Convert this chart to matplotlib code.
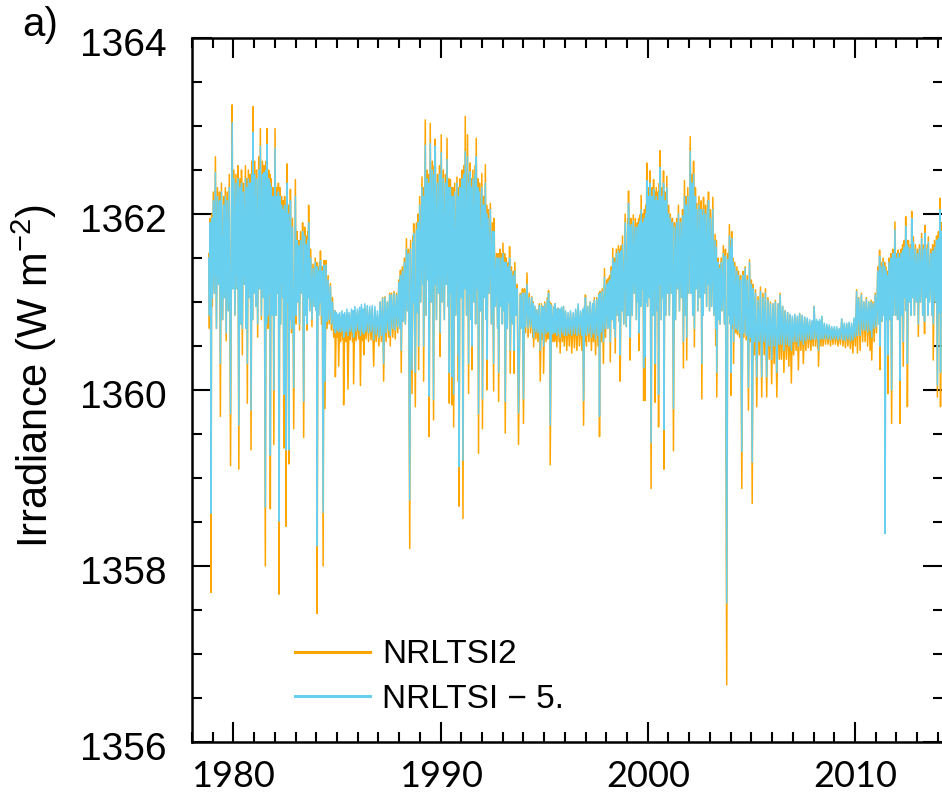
import numpy as np
import matplotlib
matplotlib.use('Agg')
import matplotlib.pyplot as plt
from matplotlib.ticker import MultipleLocator
from matplotlib.transforms import ScaledTranslation

plt.rcParams['font.family'] = ['Liberation Sans', 'DejaVu Sans']
plt.rcParams['mathtext.fontset'] = 'custom'
plt.rcParams['mathtext.rm'] = 'Liberation Sans'
plt.rcParams['mathtext.it'] = 'Liberation Sans:italic'

# sample times (decimal year), one line per year
t = [
    1978.81, 1978.84, 1978.87, 1978.90, 1978.92, 1978.95, 1978.98,
    1979.03, 1979.08, 1979.13, 1979.18, 1979.23, 1979.28, 1979.33, 1979.37, 1979.42, 1979.48, 1979.53, 1979.56, 1979.61, 1979.65, 1979.70, 1979.75, 1979.80, 1979.86, 1979.94, 1979.97,
    1980.02, 1980.07, 1980.12, 1980.17, 1980.21, 1980.26, 1980.31, 1980.36, 1980.39, 1980.43, 1980.48, 1980.53, 1980.58, 1980.62, 1980.64, 1980.67, 1980.72, 1980.77, 1980.81, 1980.85, 1980.90, 1980.92, 1980.95, 1980.98,
    1981.03, 1981.08, 1981.12, 1981.17, 1981.22, 1981.26, 1981.30, 1981.35, 1981.40, 1981.44, 1981.48, 1981.54, 1981.58, 1981.60, 1981.62, 1981.66, 1981.70, 1981.74, 1981.76, 1981.78, 1981.82, 1981.87, 1981.91, 1981.95,
    1982.01, 1982.05, 1982.09, 1982.13, 1982.17, 1982.20, 1982.24, 1982.28, 1982.33, 1982.38, 1982.40, 1982.43, 1982.47, 1982.50, 1982.52, 1982.54, 1982.59, 1982.63, 1982.65, 1982.67, 1982.71, 1982.73, 1982.75, 1982.80, 1982.85, 1982.91, 1982.99,
    1983.03, 1983.07, 1983.11, 1983.15, 1983.19, 1983.24, 1983.29, 1983.34, 1983.39, 1983.44, 1983.49, 1983.52, 1983.55, 1983.59, 1983.61, 1983.63, 1983.68, 1983.73, 1983.79, 1983.84, 1983.90, 1983.95,
    1984.00, 1984.02, 1984.04, 1984.08, 1984.12, 1984.16, 1984.18, 1984.20, 1984.25, 1984.29, 1984.33, 1984.37, 1984.42, 1984.47, 1984.52, 1984.57, 1984.62, 1984.68, 1984.73, 1984.78, 1984.84, 1984.90, 1984.92, 1984.97,
    1985.02, 1985.05, 1985.08, 1985.13, 1985.18, 1985.24, 1985.28, 1985.30, 1985.32, 1985.37, 1985.43, 1985.48, 1985.53, 1985.58, 1985.64, 1985.70, 1985.75, 1985.78, 1985.80, 1985.86, 1985.92, 1985.98,
    1986.04, 1986.09, 1986.13, 1986.18, 1986.24, 1986.27, 1986.29, 1986.34, 1986.40, 1986.46, 1986.52, 1986.58, 1986.64, 1986.70, 1986.77, 1986.83, 1986.89, 1986.95,
    1987.02, 1987.08, 1987.14, 1987.20, 1987.25, 1987.31, 1987.37, 1987.43, 1987.49, 1987.54, 1987.57, 1987.63, 1987.69, 1987.75, 1987.81, 1987.87, 1987.93, 1987.98,
    1988.03, 1988.06, 1988.10, 1988.15, 1988.20, 1988.25, 1988.30, 1988.35, 1988.40, 1988.45, 1988.51, 1988.55, 1988.62, 1988.66, 1988.68, 1988.70, 1988.78, 1988.83, 1988.88, 1988.91, 1988.94, 1988.99,
    1989.04, 1989.10, 1989.14, 1989.16, 1989.18, 1989.26, 1989.30, 1989.35, 1989.40, 1989.42, 1989.45, 1989.50, 1989.55, 1989.60, 1989.66, 1989.70, 1989.72, 1989.74, 1989.80, 1989.85, 1989.90, 1989.95, 1989.98,
    1990.03, 1990.08, 1990.13, 1990.18, 1990.23, 1990.27, 1990.31, 1990.36, 1990.40, 1990.42, 1990.47, 1990.51, 1990.53, 1990.55, 1990.60, 1990.63, 1990.68, 1990.73, 1990.79, 1990.84, 1990.87, 1990.89, 1990.94, 1990.99,
    1991.04, 1991.08, 1991.13, 1991.16, 1991.19, 1991.25, 1991.30, 1991.35, 1991.39, 1991.41, 1991.43, 1991.47, 1991.49, 1991.51, 1991.56, 1991.61, 1991.66, 1991.69, 1991.72, 1991.77, 1991.80, 1991.83, 1991.88, 1991.93, 1991.99,
    1992.02, 1992.07, 1992.11, 1992.16, 1992.20, 1992.22, 1992.24, 1992.29, 1992.34, 1992.40, 1992.45, 1992.50, 1992.56, 1992.58, 1992.64, 1992.70, 1992.75, 1992.78, 1992.80, 1992.86, 1992.91, 1992.96, 1992.98,
    1993.01, 1993.06, 1993.09, 1993.12, 1993.17, 1993.22, 1993.27, 1993.30, 1993.33, 1993.36, 1993.42, 1993.47, 1993.52, 1993.55, 1993.58, 1993.64, 1993.70, 1993.76, 1993.84, 1993.90, 1993.95,
    1994.00, 1994.05, 1994.10, 1994.17, 1994.22, 1994.28, 1994.34, 1994.40, 1994.45, 1994.47, 1994.49, 1994.55, 1994.60, 1994.65, 1994.70, 1994.76, 1994.81, 1994.87, 1994.92, 1994.95, 1994.97,
    1995.03, 1995.09, 1995.15, 1995.18, 1995.21, 1995.25, 1995.27, 1995.29, 1995.35, 1995.41, 1995.47, 1995.50, 1995.53, 1995.56, 1995.58, 1995.61, 1995.67, 1995.72, 1995.75, 1995.77, 1995.83, 1995.88, 1995.93, 1995.97,
    1996.03, 1996.09, 1996.15, 1996.21, 1996.27, 1996.33, 1996.40, 1996.46, 1996.52, 1996.58, 1996.64, 1996.70, 1996.76, 1996.82, 1996.87, 1996.90, 1996.95, 1996.97, 1996.99,
    1997.04, 1997.10, 1997.16, 1997.22, 1997.28, 1997.34, 1997.38, 1997.42, 1997.48, 1997.54, 1997.60, 1997.65, 1997.67, 1997.70, 1997.75, 1997.80, 1997.86, 1997.91, 1997.96,
    1998.02, 1998.07, 1998.10, 1998.14, 1998.16, 1998.19, 1998.24, 1998.28, 1998.31, 1998.36, 1998.40, 1998.43, 1998.48, 1998.53, 1998.58, 1998.63, 1998.65, 1998.67, 1998.72, 1998.75, 1998.78, 1998.84, 1998.91, 1998.96,
    1999.03, 1999.05, 1999.07, 1999.11, 1999.13, 1999.15, 1999.20, 1999.25, 1999.30, 1999.35, 1999.40, 1999.45, 1999.50, 1999.53, 1999.56, 1999.58, 1999.63, 1999.66, 1999.68, 1999.74, 1999.77, 1999.80, 1999.84, 1999.87, 1999.90, 1999.93, 1999.95, 1999.99,
    2000.04, 2000.08, 2000.11, 2000.16, 2000.21, 2000.25, 2000.28, 2000.31, 2000.34, 2000.36, 2000.41, 2000.46, 2000.49, 2000.52, 2000.56, 2000.58, 2000.60, 2000.65, 2000.70, 2000.73, 2000.76, 2000.78, 2000.83, 2000.87, 2000.92, 2000.96,
    2001.00, 2001.04, 2001.09, 2001.14, 2001.19, 2001.24, 2001.29, 2001.34, 2001.39, 2001.44, 2001.48, 2001.53, 2001.58, 2001.63, 2001.68, 2001.72, 2001.77, 2001.82, 2001.85, 2001.88, 2001.93, 2001.98,
    2002.05, 2002.09, 2002.13, 2002.17, 2002.21, 2002.25, 2002.30, 2002.33, 2002.37, 2002.42, 2002.47, 2002.52, 2002.57, 2002.61, 2002.65, 2002.67, 2002.69, 2002.74, 2002.79, 2002.84, 2002.89, 2002.91, 2002.93, 2002.98,
    2003.03, 2003.08, 2003.14, 2003.19, 2003.25, 2003.28, 2003.31, 2003.33, 2003.39, 2003.43, 2003.46, 2003.49, 2003.54, 2003.59, 2003.65, 2003.70, 2003.75, 2003.81, 2003.86, 2003.90, 2003.94, 2003.98,
    2004.00, 2004.02, 2004.05, 2004.10, 2004.12, 2004.14, 2004.20, 2004.25, 2004.30, 2004.33, 2004.38, 2004.43, 2004.48, 2004.54, 2004.59, 2004.64, 2004.70, 2004.75, 2004.80, 2004.86, 2004.91, 2004.96,
    2005.00, 2005.04, 2005.09, 2005.14, 2005.20, 2005.26, 2005.32, 2005.38, 2005.44, 2005.50, 2005.56, 2005.62, 2005.68, 2005.74, 2005.80, 2005.86, 2005.92, 2005.98,
    2006.04, 2006.10, 2006.16, 2006.23, 2006.29, 2006.35, 2006.39, 2006.45, 2006.51, 2006.57, 2006.63, 2006.69, 2006.75, 2006.81, 2006.87, 2006.93, 2006.98,
    2007.04, 2007.10, 2007.16, 2007.22, 2007.27, 2007.33, 2007.39, 2007.45, 2007.51, 2007.57, 2007.63, 2007.69, 2007.75, 2007.81, 2007.87, 2007.93, 2007.98,
    2008.03, 2008.09, 2008.15, 2008.20, 2008.22, 2008.24, 2008.30, 2008.36, 2008.40, 2008.46, 2008.52, 2008.58, 2008.64, 2008.70, 2008.76, 2008.82, 2008.88, 2008.94,
    2009.00, 2009.06, 2009.12, 2009.18, 2009.24, 2009.30, 2009.36, 2009.42, 2009.48, 2009.54, 2009.60, 2009.66, 2009.72, 2009.78, 2009.84, 2009.90, 2009.96,
    2010.02, 2010.08, 2010.12, 2010.18, 2010.25, 2010.31, 2010.37, 2010.43, 2010.49, 2010.55, 2010.61, 2010.67, 2010.73, 2010.78, 2010.81, 2010.87, 2010.93, 2010.98,
    2011.04, 2011.10, 2011.15, 2011.19, 2011.21, 2011.26, 2011.31, 2011.36, 2011.41, 2011.43, 2011.45, 2011.50, 2011.55, 2011.57, 2011.59, 2011.64, 2011.69, 2011.73, 2011.77, 2011.82, 2011.87, 2011.93, 2011.97,
    2012.02, 2012.06, 2012.09, 2012.13, 2012.15, 2012.17, 2012.22, 2012.27, 2012.30, 2012.33, 2012.38, 2012.42, 2012.45, 2012.48, 2012.51, 2012.53, 2012.58, 2012.63, 2012.68, 2012.71, 2012.74, 2012.78, 2012.82, 2012.87, 2012.92, 2012.97,
    2013.02, 2013.06, 2013.11, 2013.16, 2013.22, 2013.27, 2013.32, 2013.36, 2013.38, 2013.43, 2013.49, 2013.52, 2013.54, 2013.60, 2013.66, 2013.72, 2013.75, 2013.78, 2013.84, 2013.89, 2013.94, 2013.98,
    2014.03, 2014.07, 2014.10, 2014.13, 2014.17, 2014.22, 2014.26,
]

# NRLTSI2 total solar irradiance (W m-2)
nrltsi2 = [
    1361.55, 1360.70, 1361.95, 1360.90, 1357.70, 1362.00, 1360.95,
    1362.25, 1361.10, 1362.65, 1360.70, 1362.30, 1361.20, 1362.25, 1359.70, 1362.35, 1360.80, 1362.20, 1361.05, 1362.30, 1360.56, 1362.25, 1360.90, 1362.45, 1359.14, 1363.24, 1361.15,
    1362.50, 1360.85, 1362.45, 1361.15, 1362.55, 1359.10, 1362.40, 1360.75, 1362.50, 1360.40, 1362.35, 1361.20, 1362.55, 1360.70, 1362.40, 1359.85, 1362.50, 1361.05, 1362.45, 1359.32, 1362.60, 1360.80, 1363.22, 1361.10,
    1362.60, 1360.95, 1362.50, 1360.60, 1362.65, 1361.15, 1362.97, 1360.80, 1362.60, 1361.05, 1362.55, 1358.00, 1362.60, 1360.75, 1362.97, 1360.70, 1362.50, 1361.10, 1362.45, 1358.65, 1362.40, 1360.85, 1362.30, 1359.38,
    1362.97, 1360.85, 1362.30, 1361.10, 1362.35, 1357.68, 1362.30, 1360.75, 1362.20, 1361.05, 1362.15, 1359.34, 1362.20, 1360.70, 1362.10, 1358.45, 1362.57, 1361.00, 1362.10, 1359.16, 1362.00, 1360.80, 1362.28, 1360.65, 1361.95, 1359.56, 1362.39,
    1360.75, 1361.80, 1361.00, 1361.70, 1360.68, 1361.80, 1361.10, 1361.90, 1359.46, 1361.85, 1360.85, 1361.75, 1360.68, 1361.80, 1361.05, 1362.10, 1360.90, 1361.60, 1360.72, 1361.43, 1360.95, 1361.50,
    1360.90, 1361.45, 1357.46, 1361.40, 1360.85, 1361.45, 1361.00, 1361.58, 1360.75, 1361.40, 1358.00, 1361.47, 1359.79, 1361.47, 1360.70, 1361.30, 1360.75, 1361.21, 1360.68, 1361.05, 1360.60, 1360.90, 1360.15, 1360.85,
    1360.60, 1360.82, 1360.27, 1360.85, 1360.55, 1360.86, 1360.58, 1360.82, 1359.83, 1360.85, 1360.55, 1360.87, 1360.01, 1360.85, 1360.57, 1360.88, 1360.55, 1360.85, 1360.07, 1360.90, 1360.56, 1360.88,
    1360.58, 1360.90, 1360.05, 1360.92, 1360.56, 1360.88, 1360.40, 1360.95, 1360.58, 1360.92, 1360.55, 1360.90, 1360.57, 1360.93, 1360.27, 1360.90, 1360.55, 1360.85,
    1360.50, 1361.00, 1360.55, 1361.05, 1360.10, 1361.06, 1360.55, 1361.00, 1360.60, 1361.10, 1360.50, 1361.10, 1360.60, 1361.12, 1360.58, 1361.10, 1360.65, 1361.25,
    1360.70, 1361.36, 1360.20, 1361.40, 1360.78, 1361.50, 1360.75, 1361.72, 1360.90, 1361.60, 1358.20, 1361.70, 1359.96, 1361.75, 1361.00, 1361.89, 1359.81, 1361.90, 1360.88, 1362.00, 1360.23, 1362.20,
    1361.00, 1362.42, 1361.20, 1362.30, 1360.10, 1363.07, 1360.85, 1362.50, 1361.25, 1362.45, 1359.47, 1363.03, 1361.00, 1362.60, 1359.66, 1362.55, 1361.20, 1362.85, 1360.80, 1362.45, 1361.10, 1362.55, 1360.38,
    1362.90, 1361.00, 1362.50, 1360.80, 1362.45, 1361.20, 1362.86, 1360.95, 1362.40, 1359.85, 1362.39, 1361.10, 1362.30, 1359.83, 1362.30, 1359.58, 1362.35, 1360.85, 1362.42, 1360.10, 1362.30, 1358.68, 1362.40, 1361.05,
    1362.50, 1358.54, 1362.55, 1361.15, 1363.11, 1360.85, 1362.90, 1359.96, 1362.45, 1361.10, 1362.58, 1360.80, 1362.40, 1360.23, 1362.50, 1361.00, 1362.55, 1360.75, 1362.86, 1361.15, 1362.40, 1359.28, 1362.35, 1360.90, 1362.46,
    1359.56, 1362.20, 1361.05, 1362.56, 1360.80, 1362.10, 1360.00, 1362.05, 1361.10, 1362.12, 1360.75, 1361.90, 1359.99, 1361.95, 1360.95, 1361.55, 1360.70, 1361.55, 1359.87, 1361.60, 1360.95, 1361.55, 1360.75,
    1361.67, 1360.90, 1361.55, 1359.51, 1361.50, 1360.70, 1361.45, 1361.00, 1361.63, 1360.19, 1361.40, 1360.75, 1361.35, 1360.19, 1361.45, 1360.85, 1361.20, 1359.38, 1361.10, 1360.70, 1361.15,
    1359.62, 1361.15, 1360.65, 1361.33, 1360.60, 1361.10, 1360.65, 1361.06, 1360.60, 1361.00, 1360.49, 1360.95, 1360.58, 1360.91, 1360.55, 1360.98, 1360.10, 1360.98, 1360.58, 1360.95, 1360.19,
    1361.00, 1360.55, 1361.05, 1360.58, 1361.13, 1360.60, 1361.00, 1359.15, 1360.98, 1360.55, 1360.95, 1360.55, 1360.98, 1360.58, 1360.92, 1360.49, 1360.93, 1360.55, 1360.90, 1360.42, 1360.92, 1360.55, 1360.95, 1360.50,
    1360.88, 1360.45, 1360.85, 1360.50, 1360.88, 1360.42, 1360.86, 1360.48, 1360.90, 1360.45, 1360.95, 1360.50, 1360.88, 1360.45, 1360.90, 1359.60, 1360.95, 1360.55, 1361.08,
    1360.50, 1360.95, 1360.55, 1361.00, 1360.45, 1360.98, 1360.55, 1361.05, 1360.40, 1361.05, 1360.50, 1361.10, 1359.47, 1361.12, 1360.55, 1361.15, 1360.30, 1361.38, 1360.60,
    1361.25, 1360.70, 1361.27, 1360.72, 1361.30, 1360.32, 1361.40, 1360.80, 1361.61, 1360.70, 1361.50, 1360.42, 1361.60, 1360.85, 1361.64, 1360.78, 1361.60, 1360.10, 1361.64, 1360.90, 1361.75, 1360.75, 1362.00, 1360.72,
    1361.95, 1360.85, 1362.26, 1361.05, 1361.95, 1360.34, 1361.95, 1360.85, 1361.99, 1361.10, 1361.95, 1360.80, 1361.90, 1361.00, 1361.95, 1360.45, 1361.99, 1360.95, 1362.21, 1361.15, 1362.00, 1359.88, 1362.05, 1359.88, 1362.10, 1361.00, 1362.58, 1360.95,
    1362.30, 1361.05, 1362.49, 1358.88, 1362.30, 1360.85, 1362.39, 1361.15, 1362.25, 1359.86, 1362.30, 1360.90, 1362.25, 1359.58, 1362.35, 1361.20, 1362.72, 1360.80, 1362.30, 1361.05, 1362.49, 1359.10, 1362.25, 1360.85, 1362.43, 1361.10,
    1362.10, 1360.85, 1362.00, 1361.10, 1361.95, 1359.31, 1361.90, 1360.80, 1361.95, 1361.15, 1362.10, 1360.90, 1361.95, 1361.05, 1362.05, 1360.25, 1362.38, 1360.85, 1362.20, 1360.34, 1362.30, 1361.10,
    1362.88, 1361.10, 1362.45, 1360.85, 1362.60, 1360.49, 1362.30, 1361.15, 1362.12, 1360.90, 1362.20, 1361.05, 1362.15, 1359.90, 1362.05, 1360.85, 1362.19, 1361.10, 1362.10, 1360.95, 1362.15, 1361.20, 1362.25, 1360.90,
    1362.05, 1360.95, 1362.19, 1360.85, 1361.77, 1360.51, 1361.70, 1359.92, 1361.50, 1360.80, 1361.42, 1360.75, 1361.50, 1360.90, 1361.64, 1360.75, 1361.60, 1356.65, 1361.55, 1360.85, 1361.88, 1360.75,
    1361.70, 1359.94, 1361.80, 1360.70, 1361.50, 1360.30, 1361.45, 1360.65, 1361.40, 1360.63, 1361.35, 1360.60, 1361.30, 1358.88, 1361.35, 1360.60, 1361.40, 1360.57, 1361.30, 1359.77, 1361.48, 1360.55,
    1361.25, 1358.71, 1361.20, 1360.40, 1361.14, 1359.81, 1361.06, 1360.40, 1361.17, 1359.92, 1361.10, 1360.40, 1361.15, 1359.92, 1361.05, 1360.35, 1361.00, 1360.07,
    1360.98, 1360.30, 1361.02, 1359.92, 1360.98, 1360.35, 1361.10, 1360.35, 1360.95, 1360.20, 1360.90, 1360.35, 1360.88, 1360.27, 1360.85, 1360.08, 1360.82,
    1360.40, 1360.85, 1360.45, 1360.82, 1360.23, 1360.87, 1360.45, 1360.84, 1360.30, 1360.82, 1360.45, 1360.80, 1360.48, 1360.78, 1360.45, 1360.77, 1360.50,
    1360.95, 1360.50, 1360.78, 1360.48, 1360.76, 1360.27, 1360.78, 1360.50, 1360.83, 1360.50, 1360.74, 1360.52, 1360.72, 1360.52, 1360.72, 1360.50, 1360.70, 1360.52,
    1360.70, 1360.52, 1360.70, 1360.50, 1360.68, 1360.52, 1360.80, 1360.50, 1360.74, 1360.48, 1360.75, 1360.50, 1360.76, 1360.47, 1360.74, 1360.42, 1360.80,
    1360.50, 1361.14, 1360.42, 1361.05, 1360.45, 1361.10, 1360.55, 1361.00, 1360.55, 1361.05, 1360.50, 1361.00, 1360.45, 1361.02, 1360.34, 1361.00, 1360.55, 1361.10,
    1360.65, 1361.40, 1360.75, 1361.59, 1360.23, 1361.45, 1360.78, 1361.50, 1360.85, 1361.45, 1360.40, 1361.40, 1360.80, 1361.35, 1359.96, 1361.50, 1360.80, 1361.55, 1359.62, 1361.60, 1360.85, 1361.91, 1360.85,
    1361.55, 1360.80, 1361.59, 1361.00, 1361.55, 1359.62, 1361.60, 1360.85, 1361.65, 1360.27, 1361.70, 1361.05, 1361.97, 1360.90, 1361.70, 1359.81, 1361.70, 1361.00, 1361.65, 1360.85, 1362.03, 1361.05, 1361.74, 1360.85, 1361.65, 1361.00,
    1361.60, 1360.61, 1361.65, 1361.00, 1361.78, 1360.85, 1361.65, 1360.64, 1361.87, 1361.05, 1361.65, 1360.85, 1361.74, 1361.00, 1361.60, 1360.85, 1361.65, 1360.34, 1361.70, 1361.00, 1361.75, 1359.92,
    1361.80, 1360.88, 1362.18, 1359.81, 1361.90, 1360.90, 1361.80,
]

# NRLTSI minus 5 W m-2
nrltsi5 = [
    1361.50, 1360.85, 1361.90, 1361.00, 1358.60, 1361.95, 1361.05,
    1362.15, 1361.10, 1362.47, 1360.70, 1362.20, 1361.20, 1362.15, 1360.30, 1362.25, 1360.80, 1362.10, 1361.05, 1362.20, 1360.65, 1362.15, 1360.90, 1362.30, 1359.73, 1363.04, 1361.15,
    1362.40, 1360.85, 1362.35, 1361.15, 1362.40, 1359.60, 1362.30, 1360.75, 1362.35, 1360.70, 1362.25, 1361.20, 1362.40, 1360.70, 1362.30, 1360.30, 1362.40, 1361.05, 1362.35, 1359.77, 1362.45, 1360.80, 1362.93, 1361.10,
    1362.45, 1360.95, 1362.40, 1360.75, 1362.50, 1361.15, 1362.77, 1360.85, 1362.45, 1361.05, 1362.47, 1358.67, 1362.50, 1360.75, 1362.79, 1360.85, 1362.40, 1361.10, 1362.35, 1359.26, 1362.30, 1360.85, 1362.20, 1360.00,
    1362.75, 1360.85, 1362.20, 1361.10, 1362.25, 1358.51, 1362.20, 1360.75, 1362.10, 1361.05, 1362.05, 1359.95, 1362.10, 1360.70, 1362.00, 1359.32, 1362.35, 1361.00, 1362.00, 1359.32, 1361.90, 1360.80, 1362.15, 1360.70, 1361.85, 1360.03, 1362.20,
    1360.85, 1361.70, 1361.00, 1361.64, 1360.75, 1361.70, 1361.10, 1361.80, 1359.87, 1361.75, 1360.85, 1361.65, 1360.75, 1361.70, 1361.05, 1361.90, 1360.90, 1361.50, 1360.80, 1361.38, 1360.95, 1361.45,
    1360.90, 1361.40, 1358.23, 1361.35, 1360.85, 1361.40, 1361.00, 1361.47, 1360.85, 1361.35, 1358.61, 1361.42, 1360.10, 1361.42, 1360.78, 1361.25, 1360.80, 1361.18, 1360.75, 1361.00, 1360.70, 1360.90, 1360.65, 1360.88,
    1360.68, 1360.86, 1360.66, 1360.88, 1360.66, 1360.90, 1360.68, 1360.86, 1360.60, 1360.88, 1360.66, 1360.92, 1360.62, 1360.88, 1360.67, 1360.92, 1360.66, 1360.90, 1360.60, 1360.95, 1360.67, 1360.92,
    1360.68, 1360.94, 1360.62, 1360.97, 1360.66, 1360.92, 1360.64, 1360.98, 1360.67, 1360.96, 1360.65, 1360.95, 1360.66, 1360.96, 1360.57, 1360.95, 1360.63, 1360.90,
    1360.60, 1361.00, 1360.62, 1361.04, 1360.30, 1361.05, 1360.65, 1361.00, 1360.68, 1361.08, 1360.62, 1361.08, 1360.70, 1361.10, 1360.68, 1361.08, 1360.72, 1361.22,
    1360.70, 1361.30, 1360.45, 1361.35, 1360.78, 1361.45, 1360.75, 1361.60, 1360.90, 1361.55, 1358.75, 1361.60, 1360.23, 1361.68, 1361.00, 1361.78, 1360.20, 1361.82, 1360.88, 1361.90, 1360.50, 1362.10,
    1361.00, 1362.30, 1361.20, 1362.20, 1360.50, 1362.78, 1360.85, 1362.40, 1361.25, 1362.35, 1359.93, 1362.80, 1361.00, 1362.50, 1359.89, 1362.45, 1361.20, 1362.77, 1360.80, 1362.35, 1361.10, 1362.45, 1360.65,
    1362.70, 1361.00, 1362.40, 1360.80, 1362.35, 1361.20, 1362.62, 1360.95, 1362.30, 1360.20, 1362.30, 1361.10, 1362.20, 1360.15, 1362.20, 1359.95, 1362.25, 1360.85, 1362.35, 1360.40, 1362.20, 1359.13, 1362.30, 1361.05,
    1362.40, 1359.20, 1362.45, 1361.15, 1362.71, 1360.85, 1362.65, 1360.30, 1362.35, 1361.10, 1362.48, 1360.80, 1362.30, 1360.50, 1362.40, 1361.00, 1362.45, 1360.75, 1362.65, 1361.15, 1362.30, 1359.73, 1362.25, 1360.90, 1362.30,
    1359.90, 1362.10, 1361.05, 1362.35, 1360.80, 1362.00, 1360.35, 1361.95, 1361.10, 1362.05, 1360.75, 1361.80, 1360.30, 1361.80, 1360.95, 1361.50, 1360.70, 1361.50, 1360.20, 1361.50, 1360.95, 1361.50, 1360.75,
    1361.55, 1360.90, 1361.45, 1359.87, 1361.45, 1360.70, 1361.40, 1361.00, 1361.50, 1360.45, 1361.35, 1360.75, 1361.30, 1360.45, 1361.35, 1360.85, 1361.15, 1359.74, 1361.08, 1360.70, 1361.10,
    1359.90, 1361.10, 1360.72, 1361.20, 1360.70, 1361.05, 1360.72, 1361.05, 1360.70, 1360.98, 1360.60, 1360.95, 1360.66, 1360.91, 1360.65, 1360.96, 1360.45, 1360.96, 1360.66, 1360.94, 1360.50,
    1360.98, 1360.64, 1361.02, 1360.66, 1361.10, 1360.68, 1360.98, 1359.60, 1360.96, 1360.64, 1360.94, 1360.65, 1360.98, 1360.66, 1360.92, 1360.62, 1360.93, 1360.64, 1360.92, 1360.60, 1360.94, 1360.65, 1360.95, 1360.62,
    1360.90, 1360.62, 1360.88, 1360.64, 1360.90, 1360.62, 1360.88, 1360.64, 1360.92, 1360.62, 1360.98, 1360.64, 1360.90, 1360.62, 1360.92, 1359.88, 1360.95, 1360.65, 1361.05,
    1360.62, 1360.95, 1360.64, 1361.00, 1360.60, 1360.98, 1360.64, 1361.02, 1360.58, 1361.03, 1360.62, 1361.08, 1359.70, 1361.10, 1360.66, 1361.12, 1360.55, 1361.28, 1360.70,
    1361.20, 1360.70, 1361.22, 1360.72, 1361.25, 1360.55, 1361.35, 1360.80, 1361.50, 1360.70, 1361.45, 1360.60, 1361.55, 1360.85, 1361.58, 1360.78, 1361.55, 1360.40, 1361.58, 1360.90, 1361.65, 1360.75, 1361.90, 1360.72,
    1361.88, 1360.85, 1362.12, 1361.05, 1361.85, 1360.60, 1361.88, 1360.85, 1361.92, 1361.10, 1361.85, 1360.80, 1361.85, 1361.00, 1361.88, 1360.65, 1361.92, 1360.95, 1362.05, 1361.15, 1361.90, 1360.25, 1361.95, 1360.38, 1362.00, 1361.00, 1362.38, 1360.95,
    1362.20, 1361.05, 1362.35, 1359.40, 1362.20, 1360.85, 1362.28, 1361.15, 1362.15, 1360.30, 1362.20, 1360.90, 1362.15, 1359.95, 1362.25, 1361.20, 1362.53, 1360.80, 1362.20, 1361.05, 1362.35, 1359.55, 1362.15, 1360.85, 1362.30, 1361.10,
    1362.00, 1360.85, 1361.95, 1361.10, 1361.90, 1359.79, 1361.85, 1360.80, 1361.90, 1361.15, 1362.00, 1360.90, 1361.90, 1361.05, 1361.98, 1360.55, 1362.20, 1360.85, 1362.10, 1360.60, 1362.20, 1361.10,
    1362.71, 1361.10, 1362.35, 1360.85, 1362.45, 1360.70, 1362.20, 1361.15, 1362.05, 1360.90, 1362.10, 1361.05, 1362.05, 1360.30, 1361.98, 1360.85, 1362.05, 1361.10, 1362.00, 1360.95, 1362.05, 1361.20, 1362.15, 1360.90,
    1361.95, 1360.95, 1362.05, 1360.85, 1361.70, 1360.70, 1361.62, 1360.20, 1361.45, 1360.80, 1361.38, 1360.75, 1361.45, 1360.90, 1361.55, 1360.75, 1361.52, 1357.58, 1361.48, 1360.85, 1361.75, 1360.75,
    1361.62, 1360.20, 1361.72, 1360.75, 1361.45, 1360.55, 1361.40, 1360.70, 1361.35, 1360.68, 1361.30, 1360.65, 1361.25, 1359.30, 1361.30, 1360.65, 1361.38, 1360.62, 1361.25, 1360.03, 1361.45, 1360.60,
    1361.20, 1359.18, 1361.15, 1360.55, 1361.10, 1360.15, 1361.02, 1360.55, 1361.12, 1360.15, 1361.05, 1360.55, 1361.10, 1360.15, 1361.02, 1360.50, 1360.98, 1360.35,
    1360.98, 1360.50, 1361.00, 1360.20, 1360.98, 1360.52, 1361.08, 1360.52, 1360.95, 1360.45, 1360.90, 1360.52, 1360.88, 1360.50, 1360.86, 1360.45, 1360.84,
    1360.55, 1360.86, 1360.55, 1360.84, 1360.50, 1360.87, 1360.56, 1360.85, 1360.52, 1360.83, 1360.56, 1360.82, 1360.58, 1360.80, 1360.57, 1360.79, 1360.58,
    1360.95, 1360.58, 1360.80, 1360.58, 1360.78, 1360.45, 1360.80, 1360.58, 1360.84, 1360.58, 1360.76, 1360.58, 1360.75, 1360.58, 1360.74, 1360.57, 1360.72, 1360.58,
    1360.72, 1360.58, 1360.72, 1360.57, 1360.70, 1360.58, 1360.81, 1360.57, 1360.76, 1360.56, 1360.76, 1360.58, 1360.77, 1360.56, 1360.76, 1360.57, 1360.82,
    1360.60, 1361.12, 1360.62, 1361.04, 1360.62, 1361.08, 1360.68, 1361.00, 1360.68, 1361.03, 1360.66, 1361.00, 1360.68, 1361.00, 1360.60, 1360.98, 1360.70, 1361.08,
    1360.72, 1361.35, 1360.75, 1361.52, 1360.50, 1361.40, 1360.78, 1361.45, 1360.85, 1361.40, 1358.37, 1361.35, 1360.80, 1361.30, 1360.40, 1361.45, 1360.80, 1361.50, 1360.00, 1361.55, 1360.85, 1361.82, 1360.85,
    1361.50, 1360.80, 1361.55, 1361.00, 1361.50, 1360.11, 1361.55, 1360.85, 1361.58, 1360.55, 1361.62, 1361.05, 1361.86, 1360.90, 1361.65, 1360.30, 1361.62, 1361.00, 1361.60, 1360.85, 1361.95, 1361.05, 1361.68, 1360.85, 1361.60, 1361.00,
    1361.55, 1360.75, 1361.60, 1361.00, 1361.72, 1360.85, 1361.60, 1360.78, 1361.78, 1361.05, 1361.60, 1360.85, 1361.68, 1361.00, 1361.55, 1360.85, 1361.58, 1360.75, 1361.62, 1361.00, 1361.70, 1360.06,
    1361.72, 1360.88, 1362.05, 1360.20, 1361.80, 1360.90, 1361.75,
]

decade_ticks = [1980, 1990, 2000, 2010]
irr_ticks = [1356, 1358, 1360, 1362, 1364]

fig = plt.figure(figsize=(9.42, 7.92), dpi=100)
ax = fig.add_axes([192 / 942, 50 / 792, 751 / 942, 704 / 792])

ax.plot(t, nrltsi2, color='#ffa500', lw=1.1, label='NRLTSI2')
ax.plot(t, nrltsi5, color='#69cfef', lw=1.1, label='NRLTSI \u2212 5.')

ax.set_xlim(1978, 2014.25)
ax.set_ylim(1356, 1364)
ax.set_xticks(decade_ticks)
ax.set_xticklabels([str(y) for y in decade_ticks], fontfamily='Lato', fontsize=26)
ax.set_yticks(irr_ticks)
ax.set_yticklabels([str(v) for v in irr_ticks], fontsize=28)
ax.xaxis.set_minor_locator(MultipleLocator(1))
ax.yaxis.set_minor_locator(MultipleLocator(0.5))

ax.tick_params(which='both', direction='in', top=True, right=True, width=1.5, color='black')
ax.tick_params(which='major', length=14.5)
ax.tick_params(which='minor', length=7)
ax.tick_params(axis='y', pad=18)
ax.tick_params(axis='x', pad=13)
for sp in ax.spines.values():
    sp.set_linewidth(1.8)

# nudge the y labels a little below their ticks
shift = ScaledTranslation(0, -0.04, fig.dpi_scale_trans)
for tk in ax.yaxis.get_major_ticks():
    tk.label1.set_transform(tk.label1.get_transform() + shift)

ax.set_ylabel('Irradiance (W m$^{-2}$)', fontsize=30)
ax.yaxis.set_label_coords(-0.177, 0.52)

leg = ax.legend(loc='upper left', bbox_to_anchor=(0.137, 0.146), frameon=False,
                fontsize=24, handlelength=2.25, handletextpad=0.36,
                labelspacing=0.41, borderpad=0, borderaxespad=0)
for ln in leg.get_lines():
    ln.set_linewidth(2.2)

fig.text(22 / 942, 1 - 36 / 792, 'a)', fontsize=29, va='baseline')

fig.savefig('out.png', dpi=100)
